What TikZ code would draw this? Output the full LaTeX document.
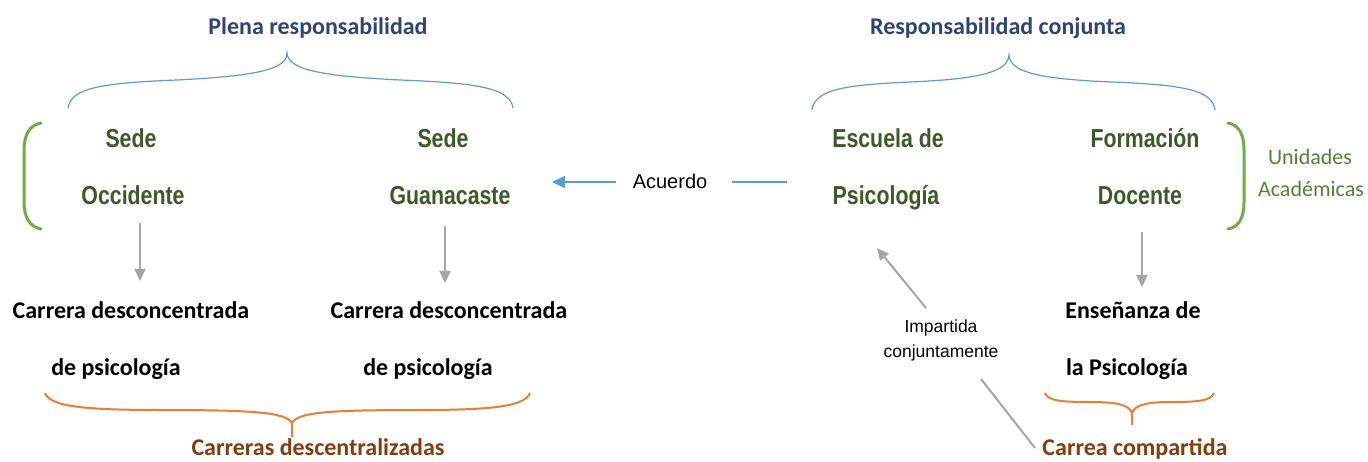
\documentclass[tikz,border=0pt]{standalone}
\usepackage{fontspec}
\setmainfont{Carlito}
\newfontfamily\narrowfont[FakeStretch=0.82]{Liberation Sans}
\newfontfamily\arialfont{Liberation Sans}
\usetikzlibrary{arrows.meta}
\definecolor{titleblue}{HTML}{2E4474}
\definecolor{unitgreen}{HTML}{3A5A27}
\definecolor{unigreen}{HTML}{548235}
\definecolor{brackgreen}{HTML}{70AD47}
\definecolor{lineblue}{HTML}{5B9BD5}
\definecolor{braceorange}{HTML}{ED7D31}
\definecolor{groupbrown}{HTML}{843C0C}
\definecolor{arrowgray}{HTML}{A5A5A5}
\begin{document}
\begin{tikzpicture}[x=1pt,y=-1pt,
  every node/.style={inner sep=0pt, anchor=base},
  titletext/.style={font=\fontsize{24}{28}\selectfont\bfseries, text=titleblue},
  unittext/.style={font=\narrowfont\fontsize{26}{30}\selectfont\bfseries, text=unitgreen},
  bodytext/.style={font=\fontsize{24}{28}\selectfont\bfseries, text=black},
  grouptext/.style={font=\fontsize{24}{28}\selectfont\bfseries, text=groupbrown},
  unitext/.style={font=\fontsize{22}{26}\selectfont, text=unigreen},
  labeltext/.style={font=\arialfont\fontsize{20}{24}\selectfont, text=black},
  smalllabel/.style={font=\arialfont\fontsize{17.5}{21}\selectfont, text=black},
  bluebrace/.style={draw=lineblue, line width=1.2pt},
  orangebrace/.style={draw=braceorange, line width=2pt},
  greenbracket/.style={draw=brackgreen, line width=3pt, line cap=round},
  grayarrow/.style={draw=arrowgray, line width=2pt, -{Triangle[width=11pt,length=12pt]}},
  grayline/.style={draw=arrowgray, line width=2pt},
  bluearrow/.style={draw=lineblue, line width=1.5pt, -{Triangle[width=12pt,length=13pt]}},
  blueline/.style={draw=lineblue, line width=1.5pt}
]
\useasboundingbox (0,0) rectangle (1368,462);

% titles
\node[titletext] (plena) at (318,35) {Plena responsabilidad};
\node[titletext] (conjunta) at (998,35) {Responsabilidad conjunta};

% blue braces
\draw[bluebrace] (68,108) .. controls (71,88) and (101,83) .. (177,80)
  .. controls (254,76) and (287,70) .. (287,53)
  .. controls (288,70) and (322,76) .. (400,80)
  .. controls (478,83) and (510,88) .. (513,108);
\draw[bluebrace] (812,110) .. controls (815,90) and (842,85) .. (910,82)
  .. controls (980,79) and (1008,72) .. (1009,55)
  .. controls (1010,72) and (1038,79) .. (1112,82)
  .. controls (1185,85) and (1212,90) .. (1215,110);

% green brackets
\draw[greenbracket] (41,123) .. controls (29,125) and (24,136) .. (24,150) -- (24,202)
  .. controls (24,216) and (29,227) .. (41,229);
\draw[greenbracket] (1228,123) .. controls (1240,125) and (1244,136) .. (1244,150) -- (1244,202)
  .. controls (1244,216) and (1240,227) .. (1228,229);

% units
\node[unittext] (sede1) at (131,148) {Sede};
\node[unittext] (occ) at (133,205) {Occidente};
\node[unittext] (sede2) at (443,148) {Sede};
\node[unittext] (guana) at (450,205) {Guanacaste};
\node[unittext] (escuela) at (888,148) {Escuela de};
\node[unittext] (psico) at (886,205) {Psicología};
\node[unittext] (formacion) at (1145,148) {Formación};
\node[unittext] (docente) at (1140,205) {Docente};

\node[unitext] (unidades) at (1310,165) {Unidades};
\node[unitext] (academicas) at (1311,197) {Académicas};

% acuerdo
\node[labeltext] (acuerdo) at (670,189) {Acuerdo};
\coordinate (acL) at (552,182);
\coordinate (acR) at (787,182);
\draw[bluearrow] ([xshift=-17pt]acuerdo.west |- acL) -- (acL);
\draw[blueline] ([xshift=25pt]acuerdo.east |- acR) -- (acR);

% gray arrows down
\coordinate (a1s) at (140,223); \coordinate (a1e) at (140,281);
\coordinate (a2s) at (445,226); \coordinate (a2e) at (445,283);
\coordinate (a3s) at (1142,232); \coordinate (a3e) at (1142,287);
\draw[grayarrow] (a1s) -- (a1e);
\draw[grayarrow] (a2s) -- (a2e);
\draw[grayarrow] (a3s) -- (a3e);

% careers
\node[bodytext] (car1a) at (131,319) {Carrera desconcentrada};
\node[bodytext] (car1b) at (116,375) {de psicología};
\node[bodytext] (car2a) at (449,319) {Carrera desconcentrada};
\node[bodytext] (car2b) at (428,375) {de psicología};
\node[bodytext] (ens1) at (1133,319) {Enseñanza de};
\node[bodytext] (ens2) at (1127,375) {la Psicología};

% orange braces
\draw[orangebrace] (45,393) .. controls (50,406) and (80,410) .. (160,410)
  .. controls (250,410) and (286,412) .. (292,423) -- (292,437);
\draw[orangebrace] (530,393) .. controls (525,406) and (495,410) .. (420,410)
  .. controls (330,410) and (298,412) .. (292,423);
\draw[orangebrace] (1045,393) .. controls (1048,401) and (1062,402) .. (1090,402)
  .. controls (1118,402) and (1129,405) .. (1132,413) -- (1132,425);
\draw[orangebrace] (1214,393) .. controls (1211,401) and (1197,402) .. (1172,402)
  .. controls (1146,402) and (1135,405) .. (1132,413);

% group labels
\node[grouptext] (descent) at (318,455.5) {Carreras descentralizadas};
\node[grouptext] (compartida) at (1135,455.5) {Carrea compartida};

% impartida conjuntamente
\node[smalllabel] (imp1) at (941,333) {Impartida};
\node[smalllabel] (imp2) at (941,357) {conjuntamente};
\coordinate (impTail) at (926,308);
\coordinate (impTip) at (877,248);
\coordinate (cpA) at (981,379);
\coordinate (cpB) at (1035,448);
\draw[grayline] (cpB) -- (cpA);
\draw[grayarrow] (impTail) -- (impTip);
\end{tikzpicture}
\end{document}
